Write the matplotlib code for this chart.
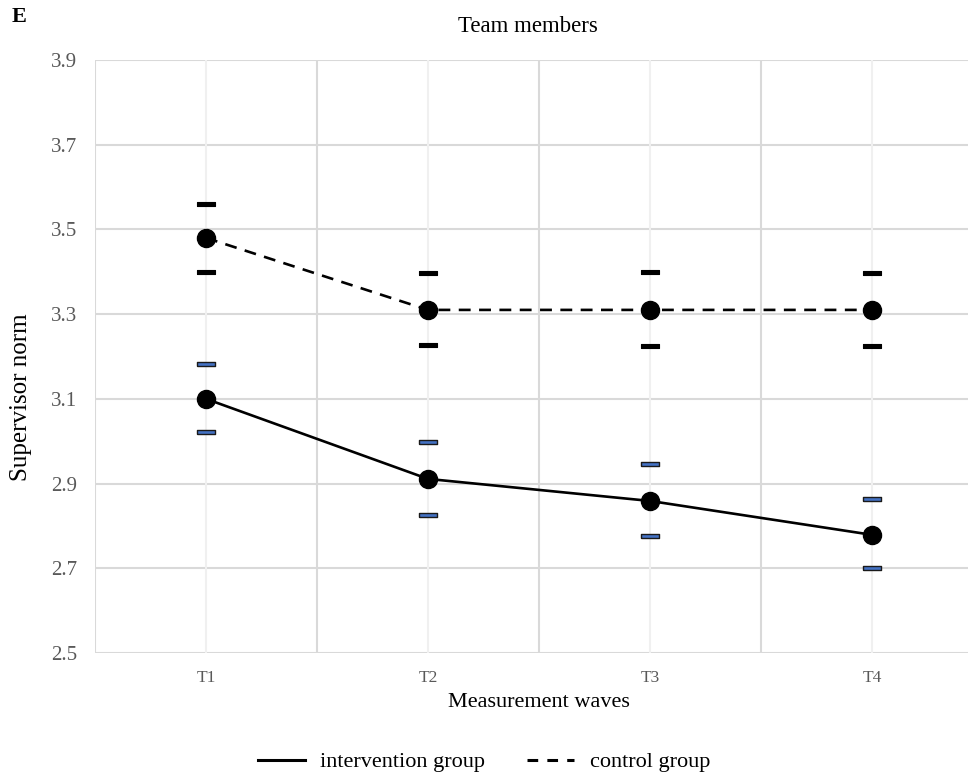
import matplotlib
matplotlib.use("Agg")
import matplotlib.pyplot as plt
from matplotlib.lines import Line2D
import numpy as np

waves = ["T1", "T2", "T3", "T4"]
control_mean = [3.48, 3.31, 3.31, 3.31]
control_upper = [3.56, 3.397, 3.40, 3.397]
control_lower = [3.40, 3.227, 3.225, 3.225]
interv_mean = [3.10, 2.911, 2.859, 2.779]
interv_upper = [3.182, 2.998, 2.946, 2.864]
interv_lower = [3.022, 2.826, 2.776, 2.70]
yticks = [2.5, 2.7, 2.9, 3.1, 3.3, 3.5, 3.7, 3.9]

plt.rcParams['font.family'] = ['Liberation Serif', 'DejaVu Serif']

fig = plt.figure(figsize=(9.68, 7.78), dpi=100)
ax = fig.add_axes([95/968, 1-653/778, 888/968, 593/778])

x = np.arange(len(waves))
cap = [(-1, -0.22), (1, -0.22), (1, 0.22), (-1, 0.22), (-1, -0.22)]

ax.plot(x, control_mean, color='black', lw=1.9, linestyle=(0, (4.5, 3.2)), zorder=3)
ax.plot(x, interv_mean, color='black', lw=1.9, linestyle='-', zorder=3)
ax.plot(x, control_mean, 'o', color='black', ms=13, zorder=4)
ax.plot(x, interv_mean, 'o', color='black', ms=13, zorder=4)
ax.plot(x, control_upper, linestyle='none', marker=cap, ms=13, mfc='black', mec='black', mew=0.8, zorder=4)
ax.plot(x, control_lower, linestyle='none', marker=cap, ms=13, mfc='black', mec='black', mew=0.8, zorder=4)
cap2 = [(-1, -0.2), (1, -0.2), (1, 0.2), (-1, 0.2), (-1, -0.2)]
ax.plot(x, interv_upper, linestyle='none', marker=cap2, ms=13, mfc='#4472C4', mec='#1a1a1a', mew=1.0, zorder=4)
ax.plot(x, interv_lower, linestyle='none', marker=cap2, ms=13, mfc='#4472C4', mec='#1a1a1a', mew=1.0, zorder=4)

ax.set_xlim(-0.5, len(waves) - 0.5)
ax.set_ylim(2.5, 3.9)
ax.set_yticks(yticks)
ax.set_yticklabels([f"{v:.1f}" for v in yticks], fontsize=15, color='#595959')
ax.set_xticks(x)
ax.set_xticklabels(waves, fontsize=12.5, color='#595959')
ax.tick_params(axis='both', which='both', length=0)
ax.tick_params(axis='y', pad=13)
ax.tick_params(axis='x', pad=12)

for s in ax.spines.values():
    s.set_visible(False)

for v in yticks:
    ax.axhline(v, color='#d9d9d9', lw=1.5, zorder=1)
for xv in np.arange(-0.5, len(waves), 1.0):
    ax.axvline(xv, color='#d9d9d9', lw=1.5, zorder=1)
for xv in x:
    ax.axvline(xv, color='#f0f0f0', lw=1.5, zorder=1)

ax.set_xlabel("Measurement waves", fontsize=16, labelpad=5, color='black')
fig.text(21/968, 1-397/778, "Supervisor norm", fontsize=18, rotation=90,
         ha='center', va='center')

fig.text(528/968, 1-27/778, "Team members", fontsize=16.5, ha='center', va='center')
fig.text(12/968, 1-17/778, "E", fontsize=16, fontweight='bold', ha='left', va='center')

handles = [Line2D([0], [0], color='black', lw=2.2, linestyle='-'),
           Line2D([0], [0], color='black', lw=2.2, linestyle=(0, (3.5, 3.0)))]
fig.legend(handles, ["intervention group", "control group"], loc='center',
           bbox_to_anchor=(484/968, 1-762/778), ncol=2, frameon=False, fontsize=16,
           handlelength=2.1, columnspacing=1.9, handletextpad=0.7)

fig.savefig("out.png", dpi=100)
